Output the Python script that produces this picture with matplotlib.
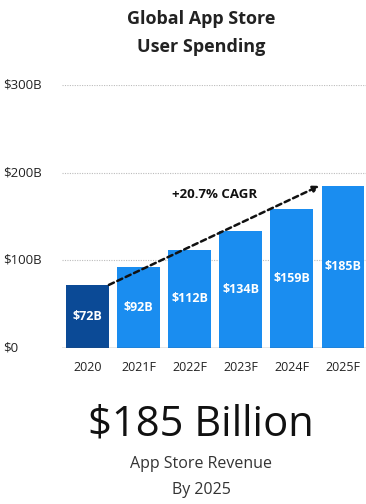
import matplotlib
matplotlib.use("Agg")
import matplotlib.pyplot as plt
from matplotlib.transforms import blended_transform_factory

plt.rcParams['font.family'] = ['Open Sans', 'DejaVu Sans']

# Data
years = ["2020", "2021F", "2022F", "2023F", "2024F", "2025F"]
spending = [72, 92, 112, 134, 159, 185]  # billions USD
value_labels = ["$72B", "$92B", "$112B", "$134B", "$159B", "$185B"]
y_ticks = [0, 100, 200, 300]
y_tick_labels = ["$0", "$100B", "$200B", "$300B"]
cagr_text = "+20.7% CAGR"

dark_blue = "#0b4a96"
light_blue = "#1a8df0"

fig = plt.figure(figsize=(3.66, 5.04), dpi=100)
ax = fig.add_axes([0.169, 0.3095, 0.831, 0.5218])

x = list(range(len(years)))
colors = [dark_blue] + [light_blue] * (len(years) - 1)
bw = 0.84
ax.bar(x, spending, width=bw, color=colors, zorder=3)

for xi, v, lab in zip(x, spending, value_labels):
    ax.text(xi, v / 2, lab, ha="center", va="center", color="white",
            fontsize=9, fontweight="bold", zorder=4)

ax.set_xlim(-0.5, 5.45)
ax.set_ylim(0, 300)

# dotted gridlines and baseline
for t in y_ticks[1:]:
    ax.axhline(t, color="#bcbcbc", lw=0.8, ls=(0, (1, 1.2)), zorder=1)
ax.axhline(0, color="#444444", lw=0.9, zorder=5)

for s in ax.spines.values():
    s.set_visible(False)
ax.set_yticks([])
ax.set_xticks(x)
ax.set_xticklabels(years, fontsize=9, color="#222222")
ax.tick_params(axis="x", length=0, pad=9)

# y labels left-aligned at the figure edge
trans = blended_transform_factory(fig.transFigure, ax.transData)
for t, lab in zip(y_ticks, y_tick_labels):
    ax.text(0.008, t, lab, transform=trans, ha="left", va="center",
            fontsize=9.5, color="#222222")

# CAGR trend arrow
ax.annotate("", xy=(5 - bw / 2 - 0.04, spending[-1]), xytext=(bw / 2, spending[0]),
            arrowprops=dict(arrowstyle="-|>", color="#111111", lw=1.8,
                            ls=(0, (2.2, 1.5)), mutation_scale=9,
                            shrinkA=0, shrinkB=0), zorder=6)
ax.text(2.48, 175, cagr_text, ha="center", va="center", fontsize=9.5,
        fontweight="bold", color="#111111")

# titles
cx = 0.55
fig.text(cx, 1 - 19 / 504, "Global App Store", ha="center", va="center",
         fontsize=13, fontweight="bold", color="#222222")
fig.text(cx, 1 - 47 / 504, "User Spending", ha="center", va="center",
         fontsize=13, fontweight="bold", color="#222222")

fig.text(cx, 1 - 425 / 504, "$185 Billion", ha="center", va="center",
         fontsize=30, color="#111111")
fig.text(cx, 1 - 464 / 504, "App Store Revenue", ha="center", va="center",
         fontsize=11.5, color="#333333")
fig.text(cx, 1 - 490 / 504, "By 2025", ha="center", va="center",
         fontsize=11.5, color="#333333")

fig.savefig("out.png", dpi=100)
